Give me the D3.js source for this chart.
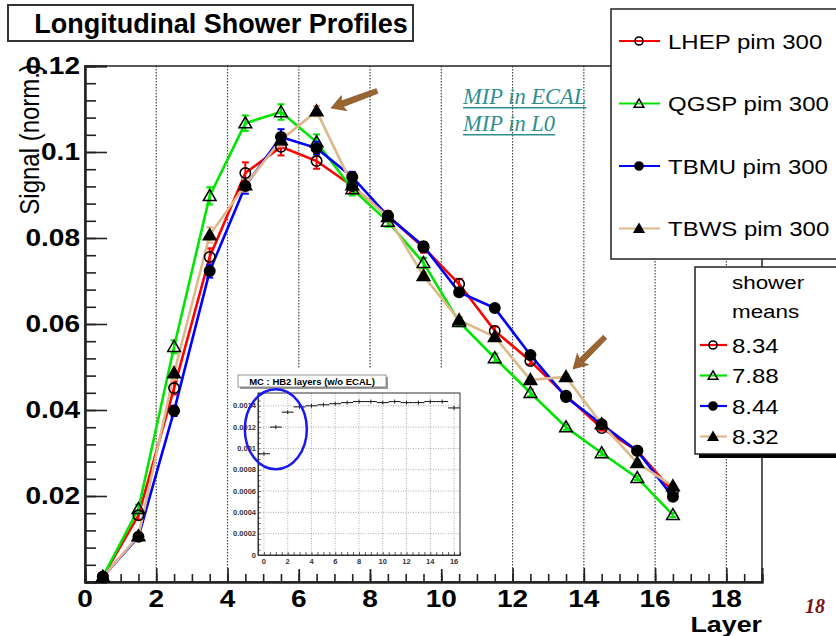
<!DOCTYPE html>
<html>
<head>
<meta charset="utf-8">
<script src="https://cdn.jsdelivr.net/npm/d3@7"></script>
<style>
  html, body { margin: 0; padding: 0; background: #fff; }
  svg { display: block; }
  text { font-family: "Liberation Sans", Arial, Helvetica, sans-serif; }
  text.serif { font-family: "Liberation Serif", "Times New Roman", serif; }
</style>
</head>
<body>
<svg id="chart" width="836" height="636"></svg>
<script>
// ---- data -------------------------------------------------------------
const layers = [0.5, 1.5, 2.5, 3.5, 4.5, 5.5, 6.5, 7.5, 8.5, 9.5, 10.5, 11.5, 12.5, 13.5, 14.5, 15.5, 16.5];

const seriesNames = ["LHEP pim 300", "QGSP pim 300", "TBMU pim 300", "TBWS pim 300"];
const showerMeans = ["8.34", "7.88", "8.44", "8.32"];

const lhepValues = [0.0012, 0.0155, 0.0451, 0.0756, 0.0951, 0.1012, 0.0979, 0.0921, 0.0851, 0.0778, 0.0693, 0.0584, 0.0514, 0.0433, 0.0358, 0.0305, 0.0210];
const qgspValues = [0.0012, 0.0170, 0.0547, 0.0898, 0.1067, 0.1093, 0.1023, 0.0914, 0.0838, 0.0742, 0.0605, 0.0521, 0.0440, 0.0360, 0.0300, 0.0242, 0.0156];
const tbmuValues = [0.0012, 0.0105, 0.0398, 0.0723, 0.0921, 0.1035, 0.1009, 0.0942, 0.0851, 0.0781, 0.0674, 0.0637, 0.0528, 0.0430, 0.0367, 0.0305, 0.0198];
const tbwsValues = [0.0012, 0.0107, 0.0486, 0.0807, 0.0923, 0.1028, 0.1095, 0.0923, 0.0849, 0.0712, 0.0609, 0.0570, 0.0470, 0.0477, 0.0367, 0.0277, 0.0223];

const lhepErrors = [0.0003, 0.0010, 0.0015, 0.0020, 0.0025, 0.0020, 0.0018, 0.0015, 0.0012, 0.0012, 0.0012, 0.0010, 0.0008, 0.0006, 0.0006, 0.0005, 0.0005];
const qgspErrors = [0.0003, 0.0010, 0.0015, 0.0020, 0.0018, 0.0018, 0.0018, 0.0015, 0.0012, 0.0012, 0.0010, 0.0010, 0.0008, 0.0006, 0.0006, 0.0005, 0.0005];
const tbmuErrors = [0.0003, 0.0008, 0.0012, 0.0015, 0.0018, 0.0018, 0.0015, 0.0012, 0.0010, 0.0008, 0.0008, 0.0006, 0.0006, 0.0005, 0.0005, 0.0004, 0.0004];
const tbwsErrors = [0.0003, 0.0008, 0.0015, 0.0018, 0.0015, 0.0015, 0.0012, 0.0012, 0.0010, 0.0008, 0.0008, 0.0006, 0.0006, 0.0005, 0.0005, 0.0004, 0.0004];

const seriesColors = ["#ff0000", "#00e600", "#0000ff", "#dcb98a"];
const seriesMarkers = ["openCircle", "openTriangle", "filledCircle", "filledTriangle"];

const xTickLabels = [0, 2, 4, 6, 8, 10, 12, 14, 16, 18];
const yTickLabels = [0.02, 0.04, 0.06, 0.08, 0.1, 0.12];

// inset: HB2 layer response (bins centred on integer layers)
const insetLayers = [0, 1, 2, 3, 4, 5, 6, 7, 8, 9, 10, 11, 12, 13, 14, 15, 16];
const insetValues = [0.00095, 0.00120, 0.00134, 0.00139, 0.00140, 0.00141, 0.00142, 0.00143, 0.00144, 0.00144, 0.00143, 0.00144, 0.00143, 0.00143, 0.00144, 0.00144, 0.00138];
const insetXTicks = [0, 2, 4, 6, 8, 10, 12, 14, 16];
const insetYTicks = [0, 0.0002, 0.0004, 0.0006, 0.0008, 0.001, 0.0012, 0.0014];

// ---- drawing ----------------------------------------------------------
const svg = d3.select("#chart");
const series = seriesNames.map((name, i) => ({
  name,
  color: seriesColors[i],
  marker: seriesMarkers[i],
  values: [lhepValues, qgspValues, tbmuValues, tbwsValues][i],
  errors: [lhepErrors, qgspErrors, tbmuErrors, tbwsErrors][i]
}));

const plot = { left: 85, right: 762, top: 66, bottom: 582 };
const x = d3.scaleLinear().domain([0, 19]).range([plot.left, plot.right]);
const y = d3.scaleLinear().domain([0, 0.12]).range([plot.bottom, plot.top]);

// wide-set text, as in the axis labelling
function wideText(g, tx, ty, str, opts) {
  return g.append("text")
    .attr("transform", `translate(${tx},${ty}) scale(${opts.sx || 1.22},1)`)
    .attr("font-size", opts.size)
    .attr("font-weight", opts.weight || "normal")
    .attr("text-anchor", opts.anchor || "start")
    .attr("fill", opts.fill || "#000")
    .text(str);
}

// vertical dotted grid
const grid = svg.append("g");
grid.selectAll("line").data(d3.range(2, 19, 2)).join("line")
  .attr("x1", d => x(d)).attr("x2", d => x(d))
  .attr("y1", plot.top).attr("y2", plot.bottom)
  .attr("stroke", "#444").attr("stroke-width", 1.2)
  .attr("stroke-dasharray", "1.5,1.5");

// frame
svg.append("rect")
  .attr("x", plot.left).attr("y", plot.top)
  .attr("width", plot.right - plot.left).attr("height", plot.bottom - plot.top)
  .attr("fill", "none").attr("stroke", "#222").attr("stroke-width", 1.5);

// axes (ticks drawn inward, ROOT style)
const xMajor = d3.axisTop(x).tickValues(d3.range(0, 19.01, 2)).tickSize(14).tickFormat("");
const xMinor = d3.axisTop(x).tickValues(d3.range(0, 19.01, 0.5)).tickSize(8).tickFormat("");
const xAxisG = svg.append("g").attr("transform", `translate(0,${plot.bottom})`);
xAxisG.append("g").call(xMinor);
xAxisG.append("g").call(xMajor);
xAxisG.selectAll("path.domain").attr("stroke", "#222").attr("stroke-width", 2);
xAxisG.selectAll(".tick line").attr("stroke", "#222").attr("stroke-width", 1.6);

const yMajor = d3.axisRight(y).tickValues(d3.range(0, 0.1201, 0.02)).tickSize(22).tickFormat("");
const yMinor = d3.axisRight(y).tickValues(d3.range(0, 0.1201, 0.004)).tickSize(11).tickFormat("");
const yAxisG = svg.append("g").attr("transform", `translate(${plot.left},0)`);
yAxisG.append("g").call(yMinor);
yAxisG.append("g").call(yMajor);
yAxisG.selectAll("path.domain").attr("stroke", "#222").attr("stroke-width", 2);
yAxisG.selectAll(".tick line").attr("stroke", "#222").attr("stroke-width", 1.6);

// tick labels
const labels = svg.append("g");
xTickLabels.forEach(v => wideText(labels, x(v), 607, String(v), { size: 23, weight: "bold", anchor: "middle" }));
yTickLabels.forEach(v => wideText(labels, 80, y(v) + 8, String(v), { size: 23, weight: "bold", anchor: "end" }));

// axis titles
wideText(labels, 762, 632, "Layer", { size: 22, weight: "bold", anchor: "end" });
svg.append("text")
  .attr("transform", "translate(39,64) rotate(-90) scale(1,1.15)")
  .attr("font-size", 24).attr("text-anchor", "end")
  .text("Signal (norm.)");

// ---- inset --------------------------------------------------------------
const inset = svg.append("g");
inset.append("rect").attr("x", 229).attr("y", 369).attr("width", 238).attr("height", 200).attr("fill", "#fff");
const ix = d3.scaleLinear().domain([-0.5, 16.5]).range([258, 460]);
const iy = d3.scaleLinear().domain([0, 0.00152]).range([555, 393]);
inset.append("g").selectAll("line").data(insetXTicks).join("line")
  .attr("x1", d => ix(d)).attr("x2", d => ix(d)).attr("y1", 393).attr("y2", 555)
  .attr("stroke", "#999").attr("stroke-width", 0.8).attr("stroke-dasharray", "1,1.5");
inset.append("g").selectAll("line").data(insetYTicks.slice(1)).join("line")
  .attr("x1", 258).attr("x2", 460).attr("y1", d => iy(d)).attr("y2", d => iy(d))
  .attr("stroke", "#999").attr("stroke-width", 0.8).attr("stroke-dasharray", "1,1.5");
inset.append("rect").attr("x", 258).attr("y", 393).attr("width", 202).attr("height", 162)
  .attr("fill", "none").attr("stroke", "#333").attr("stroke-width", 1);
inset.append("g").attr("transform", "translate(0,555)")
  .call(d3.axisTop(ix).tickValues(d3.range(0, 16.5, 0.5)).tickSize(3).tickFormat(""));
inset.append("g").attr("transform", "translate(258,0)")
  .call(d3.axisRight(iy).tickValues(d3.range(0, 0.00151, 0.00005)).tickSize(2.5).tickFormat(""));
inset.selectAll("path.domain").attr("stroke", "#333").attr("stroke-width", 1);
inset.selectAll(".tick line").attr("stroke", "#333").attr("stroke-width", 0.8);
insetXTicks.forEach(v => inset.append("text").attr("x", ix(v)).attr("y", 564)
  .attr("font-size", 7.5).attr("font-weight", "bold").attr("text-anchor", "middle").attr("fill", "#333").text(v));
insetYTicks.forEach(v => inset.append("text").attr("x", 256).attr("y", iy(v) + 2.5)
  .attr("font-size", 7.5).attr("font-weight", "bold").attr("text-anchor", "end").attr("fill", "#333")
  .text(v === 0 ? "0" : String(+v.toFixed(4))));
// histogram bins
inset.append("g").selectAll("line").data(insetLayers).join("line")
  .attr("x1", d => ix(d - 0.5)).attr("x2", d => ix(d + 0.5))
  .attr("y1", (d, i) => iy(insetValues[i])).attr("y2", (d, i) => iy(insetValues[i]))
  .attr("stroke", "#222").attr("stroke-width", 1.1);
inset.append("g").selectAll("line").data(insetLayers).join("line")
  .attr("x1", d => ix(d)).attr("x2", d => ix(d))
  .attr("y1", (d, i) => iy(insetValues[i]) - 2).attr("y2", (d, i) => iy(insetValues[i]) + 2)
  .attr("stroke", "#222").attr("stroke-width", 1);
// inset title box
inset.append("rect").attr("x", 240).attr("y", 377).attr("width", 148).attr("height", 12).attr("fill", "#999");
inset.append("rect").attr("x", 238).attr("y", 375).attr("width", 148).attr("height", 12)
  .attr("fill", "#fff").attr("stroke", "#777").attr("stroke-width", 0.8);
inset.append("text").attr("x", 312).attr("y", 384.5).attr("font-size", 9.5).attr("font-weight", "bold")
  .attr("text-anchor", "middle").text("MC : HB2 layers (w/o ECAL)");
// highlight ring around the first layers
inset.append("ellipse").attr("cx", ix(1.0)).attr("cy", iy(0.00118)).attr("rx", 31).attr("ry", 40)
  .attr("fill", "none").attr("stroke", "#1a1aee").attr("stroke-width", 2.5);

// ---- series ------------------------------------------------------------
const lineGen = d3.line().x(d => x(d[0])).y(d => y(d[1]));
const triUp = d3.symbol().type(d3.symbolTriangle).size(70);
const triSmall = d3.symbol().type(d3.symbolTriangle).size(40);

function drawMarker(g, cx, cy, type, small) {
  const r = small ? 4 : 5.2;
  if (type === "openCircle" || type === "filledCircle") {
    g.append("circle").attr("cx", cx).attr("cy", cy).attr("r", r)
      .attr("fill", type === "filledCircle" ? "#000" : "none")
      .attr("stroke", "#000").attr("stroke-width", 1.6);
  } else {
    g.append("path").attr("d", (small ? triSmall : triUp)())
      .attr("transform", `translate(${cx},${cy + 1})`)
      .attr("fill", type === "filledTriangle" ? "#000" : "none")
      .attr("stroke", "#000").attr("stroke-width", 1.5);
  }
}

const dataG = svg.append("g");
series.forEach(s => {
  const pts = layers.map((l, i) => [l, s.values[i], s.errors[i]]);
  dataG.append("path").datum(pts).attr("d", lineGen)
    .attr("fill", "none").attr("stroke", s.color).attr("stroke-width", 2.6);
  const eg = dataG.append("g").attr("stroke", s.color).attr("stroke-width", 2);
  pts.forEach(p => {
    const px = x(p[0]);
    eg.append("line").attr("x1", px).attr("x2", px).attr("y1", y(p[1] - p[2])).attr("y2", y(p[1] + p[2]));
    eg.append("line").attr("x1", px - 3.5).attr("x2", px + 3.5).attr("y1", y(p[1] + p[2])).attr("y2", y(p[1] + p[2]));
    eg.append("line").attr("x1", px - 3.5).attr("x2", px + 3.5).attr("y1", y(p[1] - p[2])).attr("y2", y(p[1] - p[2]));
  });
});
series.forEach(s => {
  const mg = dataG.append("g");
  layers.forEach((l, i) => drawMarker(mg, x(l), y(s.values[i]), s.marker, false));
});

// brown pointer arrows
function arrow(x0, y0, x1, y1) {
  const ang = Math.atan2(y1 - y0, x1 - x0);
  const len = Math.hypot(x1 - x0, y1 - y0);
  const g = svg.append("g").attr("transform", `translate(${x1},${y1}) rotate(${ang * 180 / Math.PI})`);
  g.append("path")
    .attr("d", `M0,0 L-14,-8 L-12,-3 L${-len},-2.5 L${-len},2.5 L-12,3 L-14,8 Z`)
    .attr("fill", "#9a6532").attr("stroke", "#7a4a1e").attr("stroke-width", 0.6);
}
arrow(377, 91, 331, 108);
arrow(605, 337, 573, 369);

// annotation text
const note = svg.append("g").attr("fill", "#2f8f8f");
[["MIP in ECAL", 104], ["MIP in L0", 131]].forEach(([t, by]) => {
  const el = note.append("text").attr("class", "serif").attr("x", 463).attr("y", by)
    .attr("font-style", "italic").attr("font-size", 22.5).text(t);
  const w = el.node().getComputedTextLength();
  note.append("rect").attr("x", 463).attr("y", by + 3).attr("width", w).attr("height", 1.5);
});

// ---- legend ------------------------------------------------------------
const leg = svg.append("g");
leg.append("rect").attr("x", 611).attr("y", 9).attr("width", 240).attr("height", 250)
  .attr("fill", "#fff").attr("stroke", "#222").attr("stroke-width", 1.5);
series.forEach((s, i) => {
  const cy = 41 + i * 62.5;
  leg.append("line").attr("x1", 619).attr("x2", 660).attr("y1", cy).attr("y2", cy)
    .attr("stroke", s.color).attr("stroke-width", 2.2);
  drawMarker(leg, 639, cy, s.marker, true);
  wideText(leg, 668, cy + 7.5, s.name, { size: 20, sx: 1.2 });
});

// shower means box
const means = svg.append("g");
means.append("rect").attr("x", 699).attr("y", 271).attr("width", 160).attr("height", 187).attr("fill", "#000");
means.append("rect").attr("x", 695).attr("y", 267).attr("width", 160).attr("height", 187)
  .attr("fill", "#fff").attr("stroke", "#222").attr("stroke-width", 1.5);
wideText(means, 732, 289, "shower", { size: 19, sx: 1.18 });
wideText(means, 732, 318, "means", { size: 19, sx: 1.18 });
series.forEach((s, i) => {
  const cy = 345 + i * 30.5;
  means.append("line").attr("x1", 700).attr("x2", 727).attr("y1", cy).attr("y2", cy)
    .attr("stroke", s.color).attr("stroke-width", 2.2);
  drawMarker(means, 713, cy, s.marker, true);
  wideText(means, 732, cy + 7.5, showerMeans[i], { size: 20, sx: 1.2 });
});

// ---- title ------------------------------------------------------------
svg.append("rect").attr("x", 8).attr("y", 5).attr("width", 405).attr("height", 36)
  .attr("fill", "#fff").attr("stroke", "#333").attr("stroke-width", 2);
svg.append("text").attr("x", 221).attr("y", 33).attr("font-size", 27).attr("font-weight", "bold")
  .attr("text-anchor", "middle").text("Longitudinal Shower Profiles");

// page number
svg.append("text").attr("class", "serif").attr("x", 815).attr("y", 613)
  .attr("font-style", "italic").attr("font-weight", "bold").attr("font-size", 20)
  .attr("text-anchor", "middle").attr("fill", "#7a1414").text("18");
</script>
</body>
</html>
